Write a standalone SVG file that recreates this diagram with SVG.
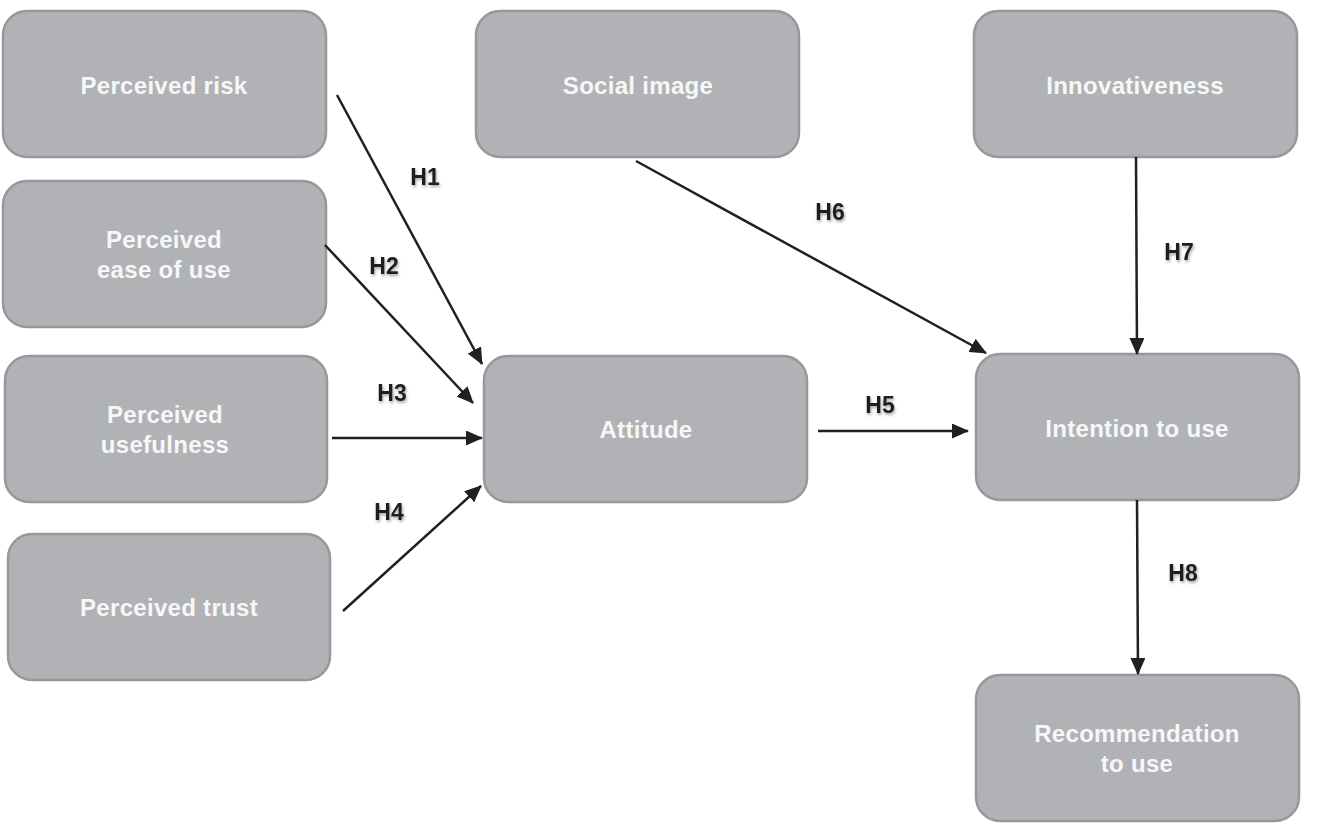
<svg xmlns="http://www.w3.org/2000/svg" width="1319" height="824" viewBox="0 0 1319 824">
<style>
.box{fill:#b1b2b5;stroke:#97989b;stroke-width:2.5}
.t{font-family:"Liberation Sans",Arial,sans-serif;font-weight:bold;font-size:24px;letter-spacing:0.3px;fill:#f7f7f7;text-anchor:middle}
.h{font-family:"Liberation Sans",Arial,sans-serif;font-weight:bold;font-size:23px;fill:#231f20;text-anchor:middle;filter:url(#sh)}
.c{stroke:#231f20;stroke-width:2.5;fill:none;marker-end:url(#ah)}
</style>
<defs>
<marker id="ah" viewBox="0 0 17 15" refX="16" refY="7.5" markerWidth="17" markerHeight="15" markerUnits="userSpaceOnUse" orient="auto">
<path d="M0,0 L17,7.5 L0,15 Z" fill="#231f20"/>
</marker>
<filter id="sh" x="-50%" y="-50%" width="200%" height="200%">
<feDropShadow dx="1" dy="2" stdDeviation="1.5" flood-color="#000" flood-opacity="0.35"/>
</filter>
</defs>
<rect width="1319" height="824" fill="#fff"/>
<g id="n-risk"><rect class="box" x="3" y="11" width="323" height="146" rx="24"/><text class="t" x="164" y="94">Perceived risk</text></g>
<g id="n-ease"><rect class="box" x="3" y="181" width="323" height="146" rx="24"/><text class="t" x="164" y="248">Perceived</text><text class="t" x="164" y="278">ease of use</text></g>
<g id="n-useful"><rect class="box" x="5" y="356" width="322" height="146" rx="24"/><text class="t" x="165" y="423">Perceived</text><text class="t" x="165" y="453">usefulness</text></g>
<g id="n-trust"><rect class="box" x="8" y="534" width="322" height="146" rx="24"/><text class="t" x="169" y="616">Perceived trust</text></g>
<g id="n-social"><rect class="box" x="476" y="11" width="323" height="146" rx="24"/><text class="t" x="638" y="94">Social image</text></g>
<g id="n-innov"><rect class="box" x="974" y="11" width="323" height="146" rx="24"/><text class="t" x="1135" y="94">Innovativeness</text></g>
<g id="n-attitude"><rect class="box" x="484" y="356" width="323" height="146" rx="24"/><text class="t" x="646" y="438">Attitude</text></g>
<g id="n-intention"><rect class="box" x="976" y="354" width="323" height="146" rx="24"/><text class="t" x="1137" y="437">Intention to use</text></g>
<g id="n-recommend"><rect class="box" x="976" y="675" width="323" height="146" rx="24"/><text class="t" x="1137" y="742">Recommendation</text><text class="t" x="1137" y="772">to use</text></g>
<g id="connectors">
<line class="c" x1="337" y1="95" x2="482" y2="364"/>
<line class="c" x1="325" y1="245" x2="473" y2="403"/>
<line class="c" x1="332" y1="438" x2="482" y2="438"/>
<line class="c" x1="343" y1="611" x2="481" y2="486"/>
<line class="c" x1="818" y1="431" x2="968" y2="431"/>
<line class="c" x1="636" y1="161" x2="986" y2="353"/>
<line class="c" x1="1136" y1="157" x2="1137" y2="354"/>
<line class="c" x1="1137" y1="500" x2="1138" y2="674"/>
</g>
<g id="labels">
<text class="h" x="425" y="185">H1</text>
<text class="h" x="384" y="274">H2</text>
<text class="h" x="392" y="401">H3</text>
<text class="h" x="389" y="520">H4</text>
<text class="h" x="880" y="413">H5</text>
<text class="h" x="830" y="220">H6</text>
<text class="h" x="1179" y="260">H7</text>
<text class="h" x="1183" y="581">H8</text>
</g>
</svg>
